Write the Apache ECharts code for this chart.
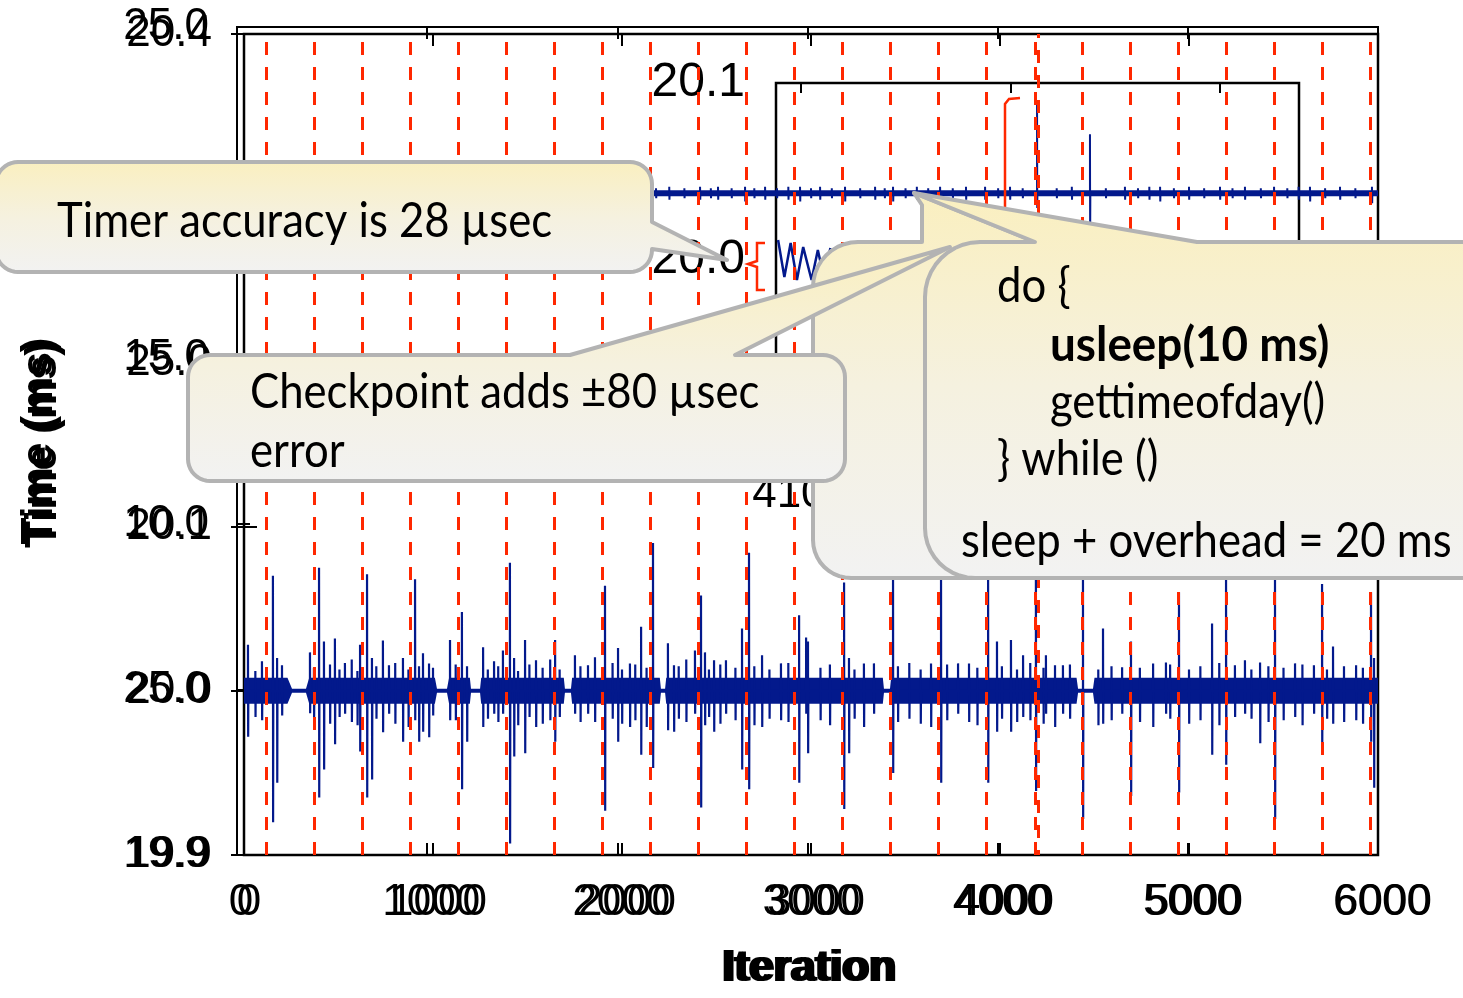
<!DOCTYPE html>
<html>
<head>
<meta charset="utf-8">
<title>Timer accuracy</title>
<script src="https://cdn.jsdelivr.net/npm/echarts@6/dist/echarts.min.js"></script>
<style>
  html, body { margin: 0; padding: 0; background: #fff; }
  #chart { width: 1463px; height: 998px; }
</style>
</head>
<body>
<div id="chart"></div>
<script>
// tick labels as they appear (two overlaid plots)
var yLabelsMain = ['19.9', '20.0', '20.1', '25.0', '', '20.4'];
var yLabelsGhost = ['19.9', '25.0', '10.0', '15.0', '', '25.0'];
var insetXTicks = [4100, 4200, 4300];

// checkpoint iterations (red dashed lines)
var checkpoints = [116, 370, 624, 878, 1132, 1386, 1640, 1894, 2148, 2402, 2656, 2910,
  3164, 3418, 3672, 3926, 4185, 4434, 4688, 4942, 5196, 5450, 5704, 5958];
var doubledCheckpoint = 4201;

// noise band around 20.0 ms: [iteration, half width ms]
var bandWidth = [[0, 0.0079], [230, 0.0079], [254, 0.0012], [328, 0.0012], [345, 0.0079],
  [1010, 0.0079], [1021, 0.0012], [1074, 0.0012], [1085, 0.0079], [1195, 0.0079],
  [1201, 0.0012], [1249, 0.0012], [1255, 0.0079], [1692, 0.0079], [1698, 0.0012],
  [1730, 0.0012], [1736, 0.0079], [2200, 0.0079], [2206, 0.0012], [2228, 0.0012],
  [2234, 0.0079], [3380, 0.0079], [3386, 0.0012], [3418, 0.0012], [3424, 0.0079],
  [4405, 0.0079], [4413, 0.0012], [4492, 0.0012], [4500, 0.0079], [6000, 0.0079]];

// spikes [iteration, high, low] in ms
var bigSpikes = [[21, 20.028, 19.972], [153, 20.070, 19.920], [175, 20.020, 19.944],
  [397, 20.075, 19.935], [423, 20.030, 19.952], [614, 20.028, 19.963], [651, 20.071, 19.935],
  [677, 20.020, 19.946], [841, 20.020, 19.969], [905, 20.068, 19.982], [926, 20.015, 19.969],
  [1090, 20.031, 19.982], [1153, 20.048, 19.940], [1180, 20.015, 19.969], [1407, 20.078, 19.907],
  [1429, 20.020, 19.960], [1487, 20.031, 19.962], [1646, 20.031, 19.969], [1910, 20.064, 19.927],
  [1979, 20.026, 19.969], [2101, 20.039, 19.961], [2164, 20.090, 19.953], [2418, 20.058, 19.929],
  [2635, 20.038, 19.952], [2672, 20.084, 19.940], [2937, 20.046, 19.944], [2984, 20.030, 19.962],
  [3175, 20.066, 19.928], [3201, 20.020, 19.962], [3434, 20.075, 19.950], [3688, 20.070, 19.944],
  [3937, 20.068, 19.944], [3984, 20.030, 19.975], [4058, 20.031, 19.975], [4190, 20.070, 19.939],
  [4439, 20.070, 19.922], [4545, 20.038, 19.980], [4693, 20.030, 19.936], [4947, 20.060, 19.938],
  [5122, 20.041, 19.961], [5196, 20.070, 19.955], [5455, 20.070, 19.922], [5704, 20.065, 19.962],
  [5762, 20.027, 19.980], [5963, 20.060, 19.969], [5979, 20.020, 19.941]];
var smallSpikes = [[201, 20.0155, 19.985], [349, 20.0234, 19.9863], [481, 20.0319, 19.9675],
  [534, 20.017, 19.986], [735, 20.0307, 19.9748], [767, 20.0155, 19.986], [947, 20.0228, 19.975],
  [979, 20.0167, 19.9717], [1265, 20.0265, 19.978], [1323, 20.018, 19.986], [1370, 20.0246, 19.986],
  [1545, 20.0186, 19.978], [1751, 20.0216, 19.986], [1820, 20.0155, 19.986], [1857, 20.0204, 19.981],
  [2042, 20.0167, 19.978], [2243, 20.0289, 19.976], [2275, 20.0155, 19.975], [2386, 20.0246, 19.986],
  [2439, 20.0234, 19.979], [2487, 20.0186, 19.975], [2550, 20.0186, 19.986], [2741, 20.0216, 19.978],
  [2841, 20.0167, 19.982], [2974, 20.0325, 19.986], [3280, 20.0167, 19.978], [3333, 20.0167, 19.986],
  [3635, 20.0167, 19.978], [3778, 20.0167, 19.986], [3836, 20.0167, 19.981], [4122, 20.0216, 19.984],
  [4243, 20.0216, 19.986], [4291, 20.0155, 19.978], [4333, 20.0155, 19.986], [4646, 20.0143, 19.986],
  [4810, 20.0167, 19.978], [4878, 20.0173, 19.986], [5243, 20.0155, 19.984], [5296, 20.0186, 19.986],
  [5376, 20.0173, 19.9681], [5561, 20.0167, 19.984], [5661, 20.0155, 19.986], [5884, 20.0155, 19.982],
  [60, 20.012, 19.984], [95, 20.018, 19.982], [370, 20.014, 19.983], [455, 20.016, 19.980],
  [505, 20.013, 19.984], [570, 20.019, 19.981], [600, 20.012, 19.979], [700, 20.015, 19.983],
  [800, 20.017, 19.980], [870, 20.013, 19.978], [1000, 20.014, 19.985], [1120, 20.016, 19.982],
  [1290, 20.013, 19.983], [1345, 20.015, 19.981], [1450, 20.012, 19.979], [1510, 20.016, 19.984],
  [1580, 20.014, 19.980], [1620, 20.019, 19.982], [1670, 20.013, 19.984], [1780, 20.015, 19.981],
  [1950, 20.017, 19.983], [2000, 20.013, 19.980], [2070, 20.016, 19.982], [2130, 20.014, 19.978],
  [2300, 20.015, 19.983], [2340, 20.019, 19.981], [2460, 20.013, 19.984], [2520, 20.016, 19.980],
  [2600, 20.014, 19.982], [2700, 20.015, 19.979], [2780, 20.013, 19.983], [2880, 20.017, 19.981],
  [3050, 20.014, 19.982], [3100, 20.016, 19.979], [3230, 20.013, 19.983], [3460, 20.015, 19.981],
  [3520, 20.017, 19.983], [3580, 20.013, 19.980], [3720, 20.016, 19.982], [3880, 20.014, 19.979],
  [4010, 20.015, 19.983], [4090, 20.013, 19.981], [4160, 20.017, 19.982], [4230, 20.014, 19.980],
  [4370, 20.016, 19.983], [4520, 20.013, 19.979], [4590, 20.015, 19.982], [4740, 20.014, 19.981],
  [4900, 20.016, 19.983], [5000, 20.013, 19.980], [5060, 20.015, 19.982], [5160, 20.017, 19.979],
  [5330, 20.013, 19.983], [5420, 20.015, 19.981], [5500, 20.014, 19.982], [5600, 20.016, 19.979],
  [5730, 20.013, 19.983], [5820, 20.015, 19.981], [5920, 20.014, 19.980]];

// upper trace of the overlaid plot
var upperLevel = 20.303;
var upperBand = [[0, 0.0018], [6000, 0.0018]];
var upperSpikes = [[296, 20.307, 20.299], [1090, 20.307, 20.299], [1672, 20.307, 20.299],
  [2180, 20.306, 20.300], [2250, 20.307, 20.299], [2330, 20.306, 20.300], [2413, 20.307, 20.299],
  [2470, 20.306, 20.300], [2508, 20.307, 20.299], [2580, 20.306, 20.300], [2651, 20.307, 20.298],
  [2700, 20.306, 20.300], [2757, 20.307, 20.299], [2820, 20.306, 20.300], [2880, 20.307, 20.299],
  [2942, 20.307, 20.298], [3000, 20.306, 20.300], [3048, 20.307, 20.299], [3110, 20.306, 20.300],
  [3180, 20.307, 20.298], [3260, 20.306, 20.300], [3339, 20.307, 20.299], [3390, 20.306, 20.300],
  [3434, 20.307, 20.298], [3500, 20.306, 20.300], [3560, 20.307, 20.299], [3620, 20.306, 20.300],
  [3683, 20.307, 20.299], [3750, 20.306, 20.300], [3820, 20.307, 20.299], [3921, 20.307, 20.299],
  [3990, 20.306, 20.300], [4053, 20.307, 20.299], [4120, 20.306, 20.300], [4196, 20.359, 20.294],
  [4300, 20.306, 20.300], [4380, 20.307, 20.299], [4476, 20.339, 20.279], [4560, 20.306, 20.300],
  [4661, 20.307, 20.299], [4730, 20.306, 20.300], [4790, 20.307, 20.299], [4847, 20.307, 20.298],
  [4920, 20.306, 20.300], [5000, 20.307, 20.299], [5080, 20.306, 20.300], [5164, 20.307, 20.299],
  [5230, 20.306, 20.300], [5296, 20.307, 20.299], [5380, 20.306, 20.300], [5450, 20.307, 20.299],
  [5520, 20.306, 20.300], [5580, 20.307, 20.299], [5640, 20.307, 20.298], [5720, 20.306, 20.300],
  [5799, 20.307, 20.299], [5880, 20.306, 20.300], [5968, 20.307, 20.297]];

// zoomed inset trace
var insetTrace = [[4089, 20.0113], [4092, 19.9904], [4095, 20.0096], [4098, 19.9887], [4101, 20.0073],
  [4105, 19.9887], [4108, 20.0056], [4111, 19.9895], [4114, 20.0068]];

var BLUE = '#03198c';
var RED = '#ff2800';
var AXIS_FONT = "'Liberation Sans', Arial, sans-serif";
var NOTE_FONT = "Lato, 'Open Sans', sans-serif";

function spikeData(list, center) {
  var s = list.slice().sort(function (a, b) { return a[0] - b[0]; });
  var out = [[0, center]];
  s.forEach(function (p) {
    out.push([p[0], center], [p[0], p[1]], [p[0] + 1, p[2]], [p[0] + 2, center]);
  });
  out.push([6000, center]);
  return out;
}
// filled band drawn through the axes' coordinate mapping
function bandSeries(breaks, center) {
  return {
    type: 'custom', xAxisIndex: 0, yAxisIndex: 0, data: [[0, center]], silent: true, z: 2,
    renderItem: function (params, api) {
      var pts = [];
      breaks.forEach(function (b) { pts.push(api.coord([b[0], center + b[1]])); });
      breaks.slice().reverse().forEach(function (b) { pts.push(api.coord([b[0], center - b[1]])); });
      return { type: 'polygon', shape: { points: pts }, style: { fill: BLUE } };
    }
  };
}

// rounded corner points, angles in units of PI
function arc(cx, cy, r, a0, a1) {
  var pts = [];
  for (var i = 0; i <= 10; i++) {
    var a = (a0 + (a1 - a0) * i / 10) * Math.PI;
    pts.push([cx + r * Math.cos(a), cy + r * Math.sin(a)]);
  }
  return pts;
}
function noteFill() {
  return new echarts.graphic.LinearGradient(0, 0, 0, 1, [
    { offset: 0, color: '#faefbf' },
    { offset: 0.5, color: '#f5f1df' },
    { offset: 1, color: '#f2f2f2' }
  ]);
}
function bubble(points) {
  return {
    type: 'polygon', z: 100,
    shape: { points: points },
    style: { fill: noteFill(), stroke: '#b3b3b3', lineWidth: 4, lineJoin: 'round' }
  };
}
function note(text, x, y, bold) {
  return {
    type: 'text', z: 110, x: x, y: y, scaleX: bold ? 0.955 : 0.91,
    style: {
      text: text, fill: '#000', verticalAlign: 'middle',
      font: (bold ? 'bold ' : '') + '48px ' + NOTE_FONT
    }
  };
}

var calloutTimer = [].concat(arc(18, 184, 22, 1, 1.5), arc(630, 184, 22, 1.5, 2),
  [[652, 222], [727, 260], [652, 249]], arc(630, 250, 22, 0, 0.5), arc(18, 250, 22, 0.5, 1));
var calloutCheckpoint = [].concat(arc(210, 377, 22, 1, 1.5),
  [[570, 355], [950, 247], [735, 355]], arc(823, 377, 22, 1.5, 2),
  arc(823, 459, 22, 0, 0.5), arc(210, 459, 22, 0.5, 1));
var calloutBack = [].concat(arc(858, 287, 45, 1, 1.5),
  [[922, 242], [922, 205], [914, 193], [1035, 242], [1490, 242], [1490, 578]],
  arc(851, 540, 38, 0.5, 1));
var calloutFront = [].concat(arc(980, 297, 55, 1, 1.5),
  [[1035, 242], [914, 193], [1197, 242], [1490, 242], [1490, 578]],
  arc(975, 528, 50, 0.5, 1));

var labelStyle = { fontSize: 44, fontFamily: AXIS_FONT, color: '#000' };
var nameStyle = { fontSize: 44, fontFamily: AXIS_FONT, fontWeight: 'bold', color: '#000' };
var insetLabelStyle = { fontSize: 48, fontFamily: AXIS_FONT, color: '#000' };
function plain(v) { return String(v); }

function valueX(grid, opts) {
  var ax = {
    gridIndex: grid, type: 'value', min: 0, max: 6000, interval: 1000,
    axisLine: { show: false },
    axisTick: { inside: true, length: 12, lineStyle: { color: '#000', width: 2 } },
    axisLabel: { show: false },
    splitLine: { show: false }
  };
  return Object.assign(ax, opts);
}

var option = {
  animation: false,
  backgroundColor: '#fff',
  grid: [
    { left: 244, right: 85, top: 34, bottom: 143, show: true, borderColor: '#000', borderWidth: 2.5 },
    { left: 237, right: 85, top: 27, bottom: 143, show: true, borderColor: '#000', borderWidth: 2 },
    { left: 776, right: 164, top: 83, bottom: 561, show: true, borderColor: '#000', borderWidth: 2.5 }
  ],
  xAxis: [
    valueX(0, {
      position: 'bottom',
      axisLabel: Object.assign({ margin: 26, formatter: plain, padding: [0, 0, 0, 10] }, labelStyle),
      name: 'Iteration', nameLocation: 'middle', nameGap: 92, nameTextStyle: nameStyle
    }),
    valueX(0, { position: 'top' }),
    valueX(1, {
      position: 'bottom',
      axisLabel: Object.assign({ margin: 26, formatter: plain, padding: [0, 0, 0, 8] }, labelStyle),
      name: 'Iteration', nameLocation: 'middle', nameGap: 92, nameTextStyle: nameStyle
    }),
    valueX(1, { position: 'top' }),
    {
      gridIndex: 2, type: 'value', min: 4088, max: 4338, position: 'bottom',
      axisLine: { show: false }, axisTick: { show: false }, splitLine: { show: false },
      axisLabel: Object.assign({ customValues: insetXTicks, margin: 36, formatter: plain }, labelStyle)
    },
    {
      gridIndex: 2, type: 'value', min: 4088, max: 4338, position: 'top',
      axisLine: { show: false }, splitLine: { show: false }, axisLabel: { show: false },
      axisTick: { customValues: insetXTicks, inside: true, length: 10, lineStyle: { color: '#000', width: 2 } }
    }
  ],
  yAxis: [
    {
      gridIndex: 0, type: 'value', min: 19.9, max: 20.4, interval: 0.1,
      axisLine: { show: false }, splitLine: { show: false },
      axisTick: { inside: true, length: 13, lineStyle: { color: '#000', width: 2 } },
      axisLabel: Object.assign({
        margin: 32,
        formatter: function (v) { return yLabelsMain[Math.round((v - 19.9) * 10)]; }
      }, labelStyle),
      name: 'Time (ms)', nameLocation: 'middle', nameGap: 178, nameTextStyle: nameStyle
    },
    {
      gridIndex: 0, type: 'value', min: 19.9, max: 20.4, interval: 0.1, position: 'right',
      axisLine: { show: false }, splitLine: { show: false }, axisLabel: { show: false },
      axisTick: { inside: true, length: 13, lineStyle: { color: '#000', width: 2 } }
    },
    {
      gridIndex: 1, type: 'value', min: 19.9, max: 20.4, interval: 0.1,
      axisLine: { show: false }, splitLine: { show: false },
      axisTick: { inside: true, length: 13, lineStyle: { color: '#000', width: 2 } },
      axisLabel: Object.assign({
        margin: 28,
        formatter: function (v) { return yLabelsGhost[Math.round((v - 19.9) * 10)]; }
      }, labelStyle),
      name: 'Time (ms)', nameLocation: 'middle', nameGap: 175, nameTextStyle: nameStyle
    },
    {
      gridIndex: 2, type: 'value', min: 19.9, max: 20.1, interval: 0.1,
      axisLine: { show: false }, splitLine: { show: false }, axisTick: { show: false },
      axisLabel: Object.assign({
        margin: 31,
        formatter: function (v) { return v.toFixed(1); }
      }, insetLabelStyle)
    }
  ],
  series: [
    bandSeries(bandWidth, 20.0),
    {
      type: 'line', xAxisIndex: 0, yAxisIndex: 0, data: spikeData(bigSpikes.concat(smallSpikes), 20.0),
      showSymbol: false, symbol: 'none', lineStyle: { color: BLUE, width: 2.2 }, silent: true, z: 3
    },
    bandSeries(upperBand, upperLevel),
    {
      type: 'line', xAxisIndex: 0, yAxisIndex: 0, data: spikeData(upperSpikes, upperLevel),
      showSymbol: false, symbol: 'none', lineStyle: { color: BLUE, width: 2 }, silent: true, z: 3
    },
    {
      type: 'line', xAxisIndex: 4, yAxisIndex: 3, data: insetTrace,
      showSymbol: false, symbol: 'none', lineStyle: { color: BLUE, width: 2.5 }, silent: true, z: 3
    },
    {
      type: 'line', xAxisIndex: 0, yAxisIndex: 0, data: [[0, 20.0]], showSymbol: false, symbol: 'none',
      lineStyle: { opacity: 0 }, silent: true, z: 5,
      markLine: {
        silent: true, symbol: ['none', 'none'], label: { show: false },
        lineStyle: { color: RED, width: 3, type: [13, 12], opacity: 1 },
        emphasis: { disabled: true },
        data: checkpoints.map(function (c) { return { xAxis: c }; }).concat([{
          xAxis: doubledCheckpoint,
          lineStyle: { color: RED, width: 3, type: [13, 12], dashOffset: 8 }
        }])
      }
    }
  ],
  graphic: [
    {
      type: 'polyline', z: 20,
      shape: { points: [[765, 243], [757, 243], [757, 261], [748, 264], [757, 267], [757, 290], [765, 290]] },
      style: { stroke: RED, lineWidth: 2.5, fill: null }
    },
    {
      type: 'polyline', z: 20,
      shape: { points: [[1020, 98], [1009, 99], [1005, 104], [1005, 250]] },
      style: { stroke: RED, lineWidth: 2.5, fill: null }
    },
    bubble(calloutTimer),
    note('Timer accuracy is 28 µsec', 57, 222),
    bubble(calloutBack),
    bubble(calloutCheckpoint),
    note('Checkpoint adds ±80 µsec', 250, 393),
    note('error', 250, 452),
    bubble(calloutFront),
    note('do {', 997, 287),
    note('usleep(10 ms)', 1050, 346, true),
    note('gettimeofday()', 1050, 403),
    note('} while ()', 997, 460),
    note('sleep + overhead = 20 ms', 961, 542)
  ]
};

var chart = echarts.init(document.getElementById('chart'), null, { renderer: 'canvas' });
chart.setOption(option);
</script>
</body>
</html>
